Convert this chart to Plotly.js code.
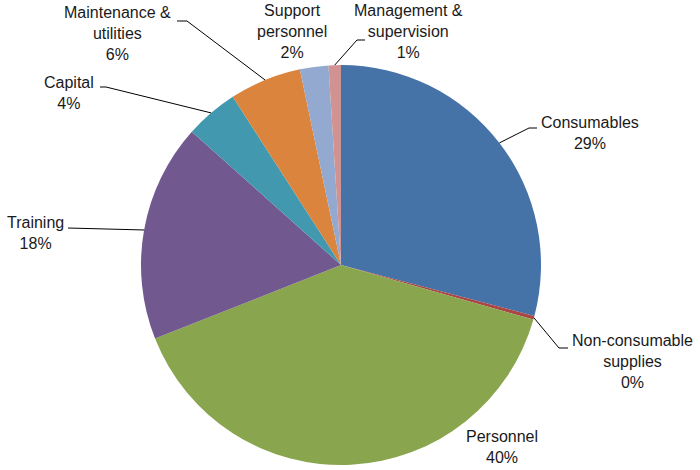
<!DOCTYPE html>
<html>
<head>
<meta charset="utf-8">
<script src="https://cdn.plot.ly/plotly-3.0.1.min.js"></script>
<style>
  html, body { margin: 0; padding: 0; background: #fff; }
  #chart { width: 700px; height: 470px; }
</style>
</head>
<body>
<div id="chart"></div>
<script>
// cost categories, clockwise from 12 o'clock
var categories = ['Consumables', 'Non-consumable supplies', 'Personnel', 'Training',
                  'Capital', 'Maintenance & utilities', 'Support personnel', 'Management & supervision'];
var shares = [29.1, 0.3, 39.6, 17.6, 4.3, 5.8, 2.3, 1.0];

// label text as it is broken in the picture
var labelLines = ['Consumables', 'Non-consumable<br>supplies', 'Personnel', 'Training',
                  'Capital', 'Maintenance &<br>utilities', 'Support<br>personnel', 'Management &<br>supervision'];

var colors = ['#4572A7', '#AA4643', '#89A54E', '#71588F', '#4198AF', '#DB843D', '#93A9CF', '#D19392'];

// pie geometry in pixels
var W = 700, H = 470;
var cx = 341, cy = 265, R = 200;

// label block centres (px) and leader attach points (px), null = no leader
var labelPos = [[590, 133], [632, 361], [502, 447], [35, 233], [69, 93], [117, 33], [292, 32], [408, 32]];
var leaderEnd = [[537, 128], [568, 348], null, [68, 228], [100, 87], [177, 21], null, [365, 40]];
var stub = [-8, -9, 0, 0, 6, 10, 0, -8];

function px(x) { return x / W; }
function py(y) { return 1 - y / H; }

var total = shares.reduce(function (a, b) { return a + b; }, 0);

var annotations = [];
var shapes = [];
var acc = 0;
for (var i = 0; i < shares.length; i++)
{
    var mid = (acc + shares[i] / 2) / total * 2 * Math.PI;
    acc += shares[i];

    annotations.push({
        x: px(labelPos[i][0]), y: py(labelPos[i][1]),
        xref: 'paper', yref: 'paper',
        xanchor: 'center', yanchor: 'middle', align: 'center',
        showarrow: false,
        text: labelLines[i] + '<br>' + Math.round(shares[i] / total * 100) + '%',
        font: { family: 'Liberation Sans, Arial, sans-serif', size: 16, color: '#1a1a1a' }
    });

    if (leaderEnd[i])
    {
        // leader starts on the rim at the middle of the slice
        var ex = cx + R * Math.sin(mid);
        var ey = cy - R * Math.cos(mid);
        var lx = leaderEnd[i][0], ly = leaderEnd[i][1];
        var path = 'M' + px(ex) + ',' + py(ey) +
                   ' L' + px(lx + stub[i]) + ',' + py(ly) +
                   ' L' + px(lx) + ',' + py(ly);
        shapes.push({
            type: 'path', xref: 'paper', yref: 'paper', path: path,
            line: { color: '#000', width: 1 }
        });
    }
}

var data = [{
    type: 'pie',
    labels: categories,
    values: shares,
    sort: false,
    direction: 'clockwise',
    rotation: 0,
    textinfo: 'none',
    hoverinfo: 'label+percent',
    marker: { colors: colors, line: { width: 0 } },
    domain: { x: [px(cx - R), px(cx + R)], y: [py(cy + R), py(cy - R)] }
}];

var layout = {
    width: W, height: H,
    margin: { l: 0, r: 0, t: 0, b: 0 },
    showlegend: false,
    paper_bgcolor: '#fff',
    annotations: annotations,
    shapes: shapes
};

Plotly.newPlot('chart', data, layout, { displayModeBar: false, staticPlot: true });
</script>
</body>
</html>
